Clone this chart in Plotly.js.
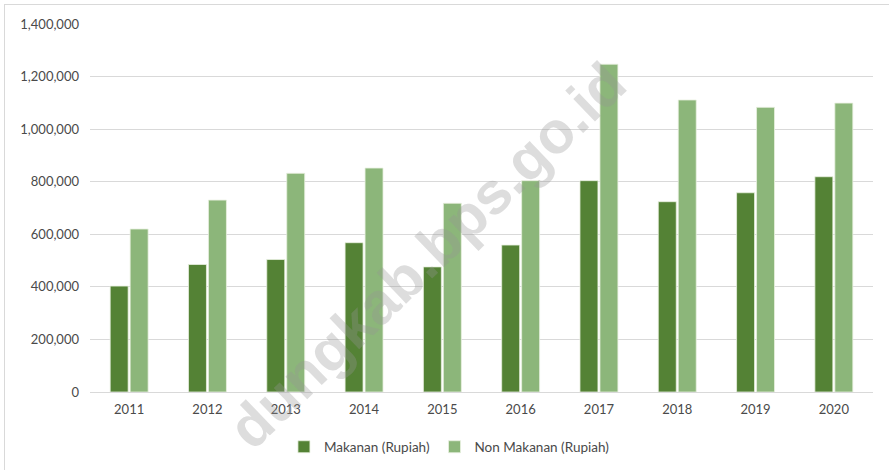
<!DOCTYPE html>
<html>
<head>
<meta charset="utf-8">
<script src="https://cdn.plot.ly/plotly-3.0.1.min.js"></script>
<style>
  html, body { margin: 0; padding: 0; background: #fff; overflow: hidden; }
  #wrap { position: relative; width: 889px; height: 470px; }
  #frame { position: absolute; left: 4px; top: 4px; width: 900px; height: 500px; border: 1px solid #d9d9d9; box-sizing: border-box; pointer-events: none; }
  #chart { position: absolute; left: 0; top: 0; width: 889px; height: 470px; }
</style>
</head>
<body>
<div id="wrap">
  <div id="chart"></div>
  <div id="frame"></div>
</div>
<script>
const years = ['2011','2012','2013','2014','2015','2016','2017','2018','2019','2020'];
const makanan = [403000, 485000, 504000, 568000, 476000, 559000, 804000, 724000, 758000, 819000];
const nonMakanan = [620000, 730000, 832000, 852000, 718000, 804000, 1247000, 1111000, 1083000, 1099000];
const seriesNames = ['Makanan (Rupiah)', 'Non Makanan (Rupiah)'];
const watermark = 'dungkab.bps.go.id';

const traces = [
  { type: 'bar', name: seriesNames[0], x: years, y: makanan,
    marker: { color: '#548235', line: { color: '#e8f0e0', width: 0.8 } } },
  { type: 'bar', name: seriesNames[1], x: years, y: nonMakanan,
    marker: { color: '#8cb67a', line: { color: '#e8f0e0', width: 0.8 } } }
];

const fam = 'Lato, "Open Sans", sans-serif';
const tickFont = { family: fam, size: 13, color: '#4a4a4a' };

const layout = {
  width: 889, height: 470,
  margin: { l: 90, r: 16, t: 24, b: 78, autoexpand: false },
  paper_bgcolor: '#ffffff', plot_bgcolor: '#ffffff',
  font: tickFont,
  barmode: 'group', bargap: 0.49, bargroupgap: 0.1,
  showlegend: true,
  legend: { orientation: 'h', x: 0.505, xanchor: 'center', xref: 'container',
            y: 0.049, yanchor: 'middle', yref: 'container',
            font: { family: fam, size: 13.5, color: '#4a4a4a' }, itemwidth: 30, tracegroupgap: 0 },
  xaxis: { type: 'category', showgrid: false, showline: true, linecolor: '#d9d9d9', linewidth: 1,
           ticks: '', tickfont: tickFont, automargin: false,
           ticklabelstandoff: 5, fixedrange: true },
  yaxis: { range: [0, 1400000], dtick: 200000, tickformat: ',d', showgrid: true,
           gridcolor: '#d9d9d9', gridwidth: 1, zeroline: true, zerolinecolor: '#d9d9d9',
           showline: false, ticks: '', ticklabelstandoff: 10, automargin: false,
           tickfont: tickFont, fixedrange: true },
  annotations: [
    { text: '<b>' + watermark + '</b>', xref: 'paper', yref: 'paper', x: 0.43, y: 0.37,
      showarrow: false, textangle: -44,
      font: { family: 'Liberation Sans, Arial, sans-serif', size: 59, color: 'rgba(150,150,150,0.32)' } }
  ]
};

Plotly.newPlot('chart', traces, layout, { displayModeBar: false, staticPlot: true });
</script>
</body>
</html>
